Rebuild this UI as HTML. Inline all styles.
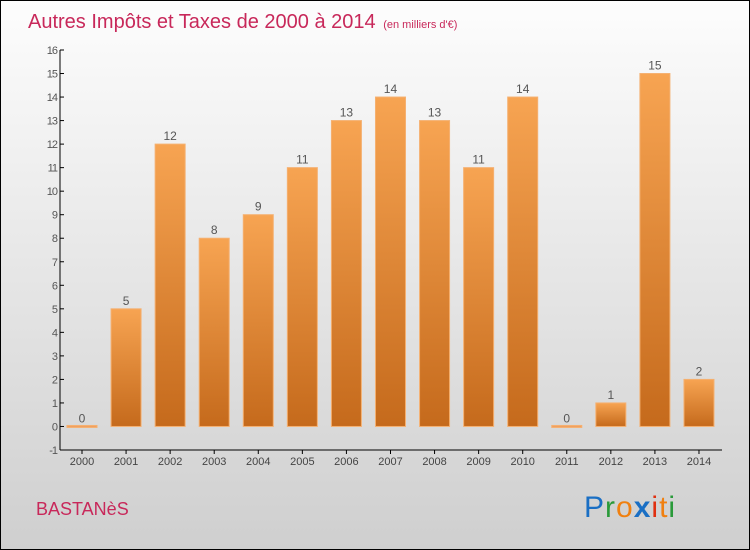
<!DOCTYPE html>
<html><head><meta charset="utf-8"><style>
body{margin:0}
#c{width:748px;height:548px;border:1px solid #000;background:linear-gradient(#fdfdfd,#cfcfcf);position:relative;overflow:hidden;font-family:"DejaVu Sans","Liberation Sans",sans-serif}
</style></head><body>
<div id="c">
<svg width="748" height="548" style="position:absolute;left:0;top:0">
<defs><linearGradient id="bg" x1="0" y1="0" x2="0" y2="1"><stop offset="0" stop-color="#f7a452"/><stop offset="1" stop-color="#c56a1c"/></linearGradient></defs>
<text x="27" y="27" font-size="20" fill="#c8285a" font-family="Liberation Sans,sans-serif">Autres Impôts et Taxes de 2000 à 2014 <tspan font-size="11" dx="2">(en milliers d'€)</tspan></text>
<g id="axes"></g><g id="bars"></g>
<text x="35" y="514" font-size="18" fill="#c8285a" font-family="Liberation Sans,sans-serif">BASTANèS</text>
<text x="583" y="516" font-size="30" letter-spacing="1" font-family="Liberation Sans,sans-serif"><tspan fill="#1a6fc4">P</tspan><tspan fill="#2a9a3a">r</tspan><tspan fill="#f08010">o</tspan><tspan fill="#1a6fc4" font-weight="bold">x</tspan><tspan fill="#e03010">i</tspan><tspan fill="#f08010">t</tspan><tspan fill="#2a9a3a">i</tspan></text>
</svg>
</div>
<script>
const years=[2000,2001,2002,2003,2004,2005,2006,2007,2008,2009,2010,2011,2012,2013,2014];
const values=[0,5,12,8,9,11,13,14,13,11,14,0,1,15,2];
const yTicks=[-1,0,1,2,3,4,5,6,7,8,9,10,11,12,13,14,15,16];
const NS="http://www.w3.org/2000/svg";
const y=v=>449-(v+1)*23.53;
const x=i=>81+i*44.07;
function mk(t,a,p,txt){const e=document.createElementNS(NS,t);for(const k in a)e.setAttribute(k,a[k]);if(txt!==undefined)e.textContent=txt;p.appendChild(e);return e;}
const ax=document.getElementById('axes'),bg=document.getElementById('bars');
let l=mk('line',{x1:59,y1:y(16),x2:59,y2:y(-1),stroke:'#000'},ax);


l=mk('line',{x1:59,y1:y(-1),x2:721,y2:y(-1),stroke:'#000'},ax);


yTicks.forEach(v=>{mk('line',{x1:59,y1:y(v),x2:63,y2:y(v),stroke:'#000'},ax);
const t=mk('text',{x:56,y:y(v)+4,'font-size':11,fill:'#555','text-anchor':'end','letter-spacing':'-1','font-family':'Liberation Sans,sans-serif'},ax,v);

});
years.forEach((yr,i)=>{mk('line',{x1:x(i),y1:y(-1),x2:x(i),y2:y(-1)+4,stroke:'#000'},ax);
const t=mk('text',{x:x(i),y:y(-1)+15,'font-size':11,fill:'#444','text-anchor':'middle','font-family':'Liberation Sans,sans-serif'},ax,yr);


const v=values[i];
const h=Math.max(y(0)-y(v),2);
const r=mk('rect',{x:x(i)-15,y:y(0)-(v?h:1),width:30,height:v?h:2,fill:v?'url(#bg)':'#f0a060',stroke:'#f5b070','stroke-width':1},bg);


const lb=mk('text',{x:x(i),y:y(v)-4,'font-size':12,fill:'#555','text-anchor':'middle','font-family':'Liberation Sans,sans-serif'},bg,v);

});
</script>
</body></html>
